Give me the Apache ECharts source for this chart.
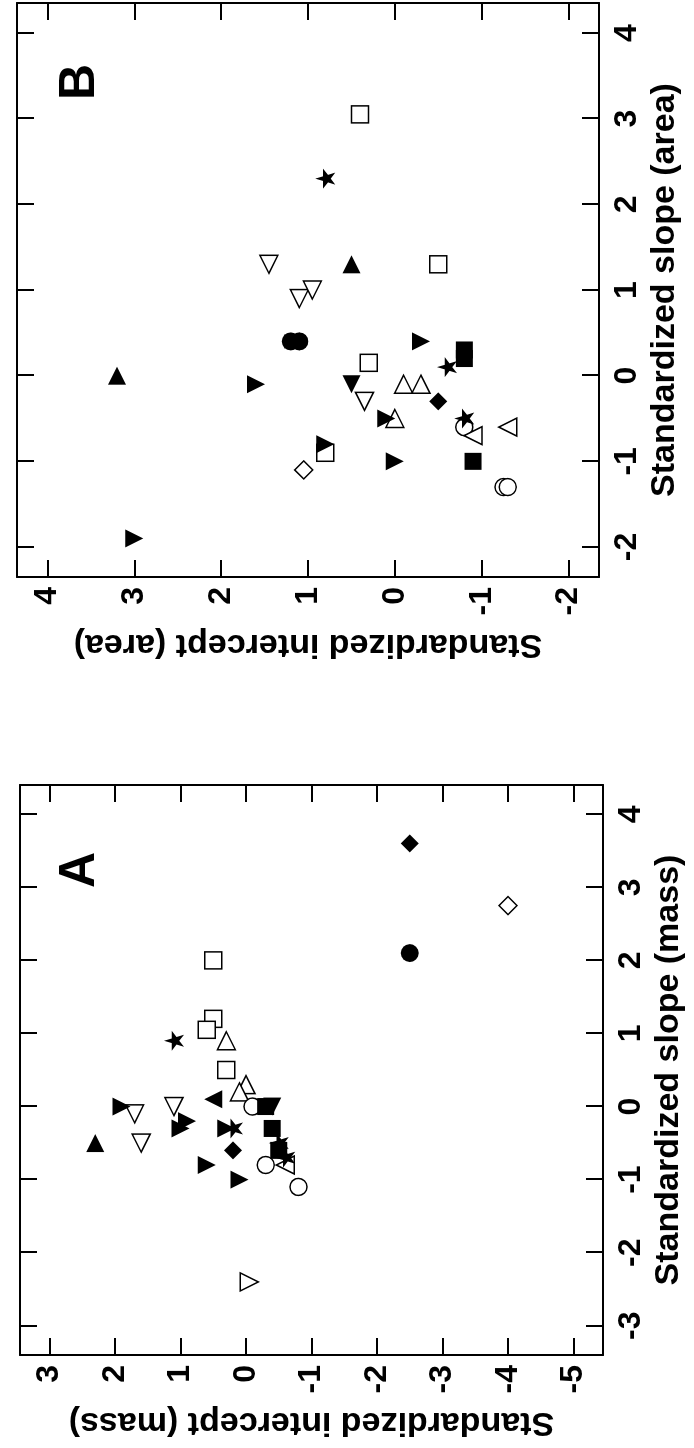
<!DOCTYPE html>
<html>
<head>
<meta charset="utf-8">
<script src="https://cdn.jsdelivr.net/npm/echarts@6.0.0/dist/echarts.min.js"></script>
<style>
  html, body { margin: 0; padding: 0; background: #fff; }
  .page { position: relative; width: 694px; height: 1448px; overflow: hidden; }
  /* the figure is printed sideways: draw it upright, then turn it */
  #chart { position: absolute; left: 0; top: 0; width: 1448px; height: 694px;
    transform-origin: 0 0; transform: translate(0, 1448px) rotate(-90deg); }
</style>
</head>
<body>
<div class="page"><div id="chart"></div></div>
<script>
// tick labels
var slopeTicksA = [-3, -2, -1, 0, 1, 2, 3, 4]
var interceptTicksA = [-5, -4, -3, -2, -1, 0, 1, 2, 3]
var slopeTicksB = [-2, -1, 0, 1, 2, 3, 4]
var interceptTicksB = [-2, -1, 0, 1, 2, 3, 4]

// panel A, points are [slope, intercept]
var aTriRightFilled = [[-0.5, 2.3]]
var aTriLeftOpen = [[-0.5, 1.6], [-0.1, 1.7], [0.0, 1.1]]
var aTriDownFilled = [[0.0, 1.9], [-0.3, 1.0], [-0.2, 0.9], [-1.0, 0.1], [-0.8, 0.6], [-0.3, 0.3]]
var aStar = [[0.9, 1.1], [-0.3, 0.2], [-0.5, -0.5], [-0.7, -0.6]]
var aSquareOpen = [[2.0, 0.5], [1.2, 0.5], [1.05, 0.6], [0.5, 0.3]]
var aTriRightOpen = [[0.9, 0.3], [0.3, 0.0], [0.2, 0.1]]
var aDiamondFilled = [[3.6, -2.5], [-0.6, 0.2]]
var aCircleFilled = [[2.1, -2.5]]
var aDiamondOpen = [[2.75, -4.0]]
var aTriDownOpen = [[-2.4, -0.05]]
var aCircleOpen = [[-1.1, -0.8], [0.0, -0.1], [-0.8, -0.3]]
var aSquareFilled = [[-0.6, -0.5], [-0.3, -0.4], [0.0, -0.3]]
var aTriLeftFilled = [[0.0, -0.4]]
var aTriUpFilled = [[0.1, 0.5]]
var aTriUpOpen = [[-0.8, -0.6]]

// panel B
var bTriDownFilled = [[-1.9, 3.0], [-0.1, 1.6], [-0.8, 0.8], [-0.5, 0.1], [-1.0, 0.0], [0.4, -0.3]]
var bTriRightFilled = [[0.0, 3.2], [1.3, 0.5]]
var bStar = [[2.3, 0.8], [-0.5, -0.8], [0.1, -0.6]]
var bSquareOpen = [[3.05, 0.4], [1.3, -0.5], [0.15, 0.3], [-0.9, 0.8]]
var bTriLeftOpen = [[1.3, 1.45], [0.9, 1.1], [1.0, 0.95], [-0.3, 0.35]]
var bCircleFilled = [[0.4, 1.2], [0.4, 1.1]]
var bDiamondOpen = [[-1.1, 1.05]]
var bTriRightOpen = [[-0.1, -0.1], [-0.5, 0.0], [-0.1, -0.3]]
var bDiamondFilled = [[-0.3, -0.5]]
var bSquareFilled = [[-1.0, -0.9], [0.3, -0.8], [0.2, -0.8]]
var bCircleOpen = [[-1.3, -1.25], [-1.3, -1.3], [-0.6, -0.8]]
var bTriUpOpen = [[-0.6, -1.3], [-0.7, -0.9]]
var bTriLeftFilled = [[-0.1, 0.5]]

var SYM = {
  up: 'path://M5,0 L10,10 L0,10 Z',
  down: 'path://M0,0 L10,0 L5,10 Z',
  right: 'path://M0,0 L10,5 L0,10 Z',
  left: 'path://M10,0 L0,5 L10,10 Z',
  star: 'path://M50,0 L61,35 L98,35 L68,57 L79,91 L50,70 L21,91 L32,57 L2,35 L39,35 Z'
}

var font = 'Liberation Sans, Arial, sans-serif'

function pts(name, data, symbol, filled, panel, size) {
  return {
    name: name,
    type: 'scatter',
    xAxisIndex: panel * 2,
    yAxisIndex: panel * 2,
    data: data,
    symbol: symbol,
    symbolSize: size || 18,
    itemStyle: {
      color: filled ? '#000' : '#fff',
      borderColor: '#000',
      borderWidth: filled ? 0 : 1.5,
      opacity: 1
    },
    z: filled ? 3 : 2
  }
}

// axis with labels (main) or just the frame side with ticks (mirror)
function axis(grid, pos, min, max, ticks, name, main) {
  var horiz = pos === 'bottom' || pos === 'top'
  var a = {
    type: 'value',
    gridIndex: grid,
    position: pos,
    min: min,
    max: max,
    axisLine: { show: true, onZero: false, lineStyle: { color: '#000', width: 2 } },
    axisTick: { show: true, inside: true, length: 17, customValues: ticks, lineStyle: { color: '#000', width: 2 } },
    axisLabel: {
      show: main,
      customValues: ticks,
      color: '#000',
      fontSize: 32,
      fontWeight: 'bold',
      fontFamily: font,
      margin: horiz ? 12 : 10
    },
    splitLine: { show: false }
  }
  if (main) {
    a.name = name
    a.nameLocation = 'middle'
    a.nameGap = horiz ? 48 : 50
    a.nameTextStyle = { color: '#000', fontSize: 34, fontWeight: 'bold', fontFamily: font }
    if (!horiz) a.nameRotate = 90
  }
  return a
}

var chart = echarts.init(document.getElementById('chart'))

chart.setOption({
  animation: false,
  backgroundColor: '#fff',
  title: [
    { text: 'A', left: 555, top: 50, textStyle: { fontSize: 50, fontWeight: 'bold', fontFamily: font, color: '#000' } },
    { text: 'B', left: 1343, top: 50, textStyle: { fontSize: 50, fontWeight: 'bold', fontFamily: font, color: '#000' } }
  ],
  grid: [
    { left: 93, top: 20, width: 570, height: 583 },
    { left: 871, top: 17, width: 574, height: 582 }
  ],
  xAxis: [
    axis(0, 'bottom', -3.4, 4.4, slopeTicksA, 'Standardized slope (mass)', true),
    axis(0, 'top', -3.4, 4.4, slopeTicksA, '', false),
    axis(1, 'bottom', -2.35, 4.35, slopeTicksB, 'Standardized slope (area)', true),
    axis(1, 'top', -2.35, 4.35, slopeTicksB, '', false)
  ],
  yAxis: [
    axis(0, 'left', -5.45, 3.45, interceptTicksA, 'Standardized intercept (mass)', true),
    axis(0, 'right', -5.45, 3.45, interceptTicksA, '', false),
    axis(1, 'left', -2.35, 4.35, interceptTicksB, 'Standardized intercept (area)', true),
    axis(1, 'right', -2.35, 4.35, interceptTicksB, '', false)
  ],
  series: [
    pts('A right filled', aTriRightFilled, SYM.right, true, 0),
    pts('A left open', aTriLeftOpen, SYM.left, false, 0),
    pts('A down filled', aTriDownFilled, SYM.down, true, 0),
    pts('A star', aStar, SYM.star, true, 0, 20),
    pts('A square open', aSquareOpen, 'rect', false, 0, 17),
    pts('A right open', aTriRightOpen, SYM.right, false, 0),
    pts('A diamond filled', aDiamondFilled, 'diamond', true, 0),
    pts('A circle filled', aCircleFilled, 'circle', true, 0),
    pts('A diamond open', aDiamondOpen, 'diamond', false, 0),
    pts('A down open', aTriDownOpen, SYM.down, false, 0),
    pts('A circle open', aCircleOpen, 'circle', false, 0, 17),
    pts('A square filled', aSquareFilled, 'rect', true, 0, 17),
    pts('A left filled', aTriLeftFilled, SYM.left, true, 0),
    pts('A up filled', aTriUpFilled, SYM.up, true, 0),
    pts('A up open', aTriUpOpen, SYM.up, false, 0),

    pts('B down filled', bTriDownFilled, SYM.down, true, 1),
    pts('B right filled', bTriRightFilled, SYM.right, true, 1),
    pts('B star', bStar, SYM.star, true, 1, 20),
    pts('B square open', bSquareOpen, 'rect', false, 1, 17),
    pts('B left open', bTriLeftOpen, SYM.left, false, 1),
    pts('B circle filled', bCircleFilled, 'circle', true, 1),
    pts('B diamond open', bDiamondOpen, 'diamond', false, 1),
    pts('B right open', bTriRightOpen, SYM.right, false, 1),
    pts('B diamond filled', bDiamondFilled, 'diamond', true, 1),
    pts('B square filled', bSquareFilled, 'rect', true, 1, 17),
    pts('B circle open', bCircleOpen, 'circle', false, 1, 17),
    pts('B up open', bTriUpOpen, SYM.up, false, 1),
    pts('B left filled', bTriLeftFilled, SYM.left, true, 1)
  ]
})
</script>
</body>
</html>
